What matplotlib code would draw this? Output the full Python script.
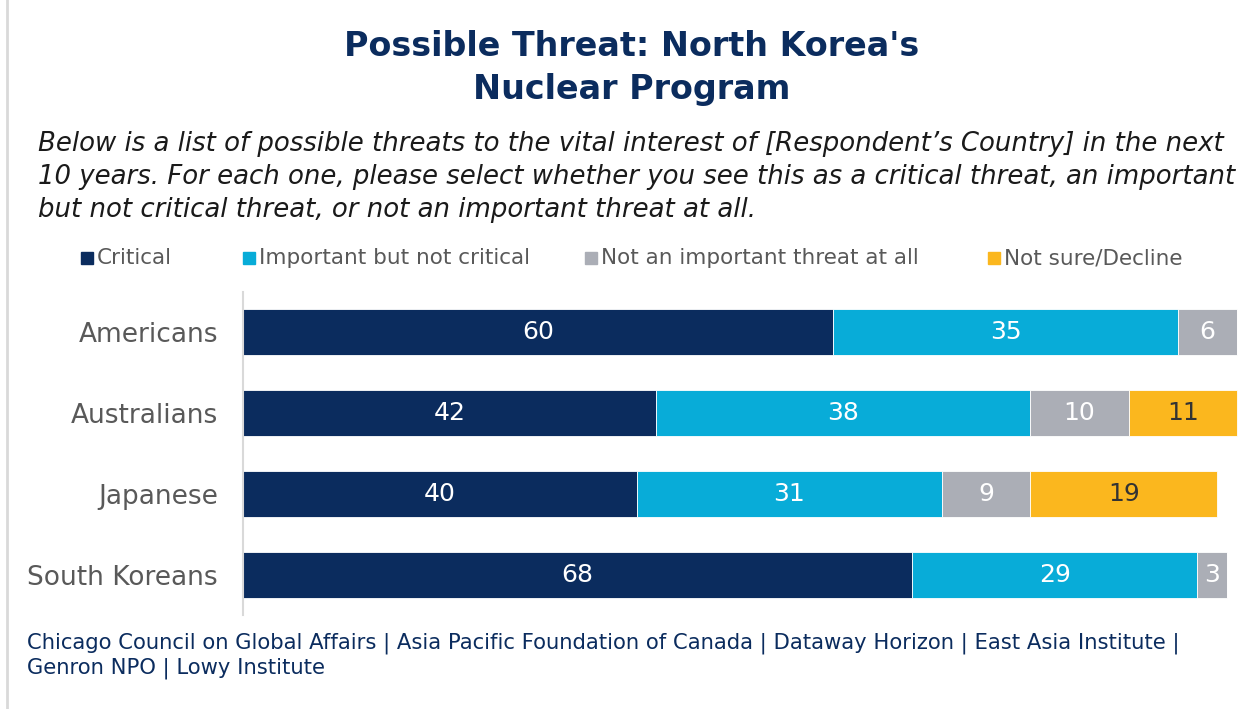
import matplotlib.pyplot as plt
import numpy as np

W, H = 1253, 709

groups = ["Americans", "Australians", "Japanese", "South Koreans"]
series = ["Critical", "Important but not critical",
          "Not an important threat at all", "Not sure/Decline"]
critical = [60, 42, 40, 68]
important = [35, 38, 31, 29]
not_important = [6, 10, 9, 3]
not_sure = [0, 11, 19, 0]

colors = ["#0b2c5e", "#08acd8", "#abaeb6", "#fbb71e"]
label_colors = ["white", "white", "white", "#333333"]

plt.rcParams['font.family'] = ['DejaVu Sans']

fig = plt.figure(figsize=(W / 100, H / 100), dpi=100)

def px(x, y):
    return x / W, 1 - y / H

# plot area: x 243..1243 px, y 292..615 px
ax = fig.add_axes([243 / W, 1 - 615 / H, 1000 / W, 323 / H])

ypos = np.arange(len(groups))
left = np.zeros(len(groups))
for vals, col, tcol in zip([critical, important, not_important, not_sure],
                           colors, label_colors):
    vals = np.array(vals, dtype=float)
    ax.barh(ypos, vals, left=left, height=0.57, color=col,
            edgecolor="white", linewidth=0.6)
    for y, l, v in zip(ypos, left, vals):
        if v > 0:
            ax.text(l + v / 2, y, f"{v:g}", ha="center", va="center",
                    color=tcol, fontsize=18)
    left += vals

ax.set_xlim(0, 1000 / 9.84)
ax.set_ylim(3.5, -0.5)
ax.set_yticks(ypos)
ax.set_yticklabels(groups, fontsize=19, color="#595959")
ax.tick_params(axis="y", length=0, pad=18)
ax.set_xticks([])
for s in ["top", "right", "bottom"]:
    ax.spines[s].set_visible(False)
ax.spines["left"].set_color("#d9d9d9")
ax.spines["left"].set_linewidth(1.5)

# title and question text
navy = "#0b2c5e"
fig.text(*px(632, 68), "Possible Threat: North Korea's\nNuclear Program",
         ha="center", va="center", fontsize=24, fontweight="bold",
         color=navy, linespacing=1.4)
fig.text(*px(38, 177),
         "Below is a list of possible threats to the vital interest of [Respondent\u2019s Country] in the next\n"
         "10 years. For each one, please select whether you see this as a critical threat, an important\n"
         "but not critical threat, or not an important threat at all.",
         ha="left", va="center", fontsize=18.7, style="italic",
         color="#1a1a1a", linespacing=1.36)

# legend row
leg_x = [81, 243, 585, 988]
for x, name, col in zip(leg_x, series, colors):
    fig.patches.append(plt.Rectangle(px(x, 264), 12 / W, 12 / H,
                                     transform=fig.transFigure,
                                     color=col, figure=fig))
    fig.text(*px(x + 16, 258), name, ha="left", va="center",
             fontsize=15.5, color="#595959")

fig.text(*px(27, 656),
         "Chicago Council on Global Affairs | Asia Pacific Foundation of Canada | Dataway Horizon | East Asia Institute |\n"
         "Genron NPO | Lowy Institute",
         ha="left", va="center", fontsize=15.2, color=navy, linespacing=1.23)

# thin frame line along the left edge
fig.add_artist(plt.Line2D([7 / W, 7 / W], [0, 1], color="#d9d9d9",
                          linewidth=2, transform=fig.transFigure))

fig.savefig("out.png", dpi=100)
